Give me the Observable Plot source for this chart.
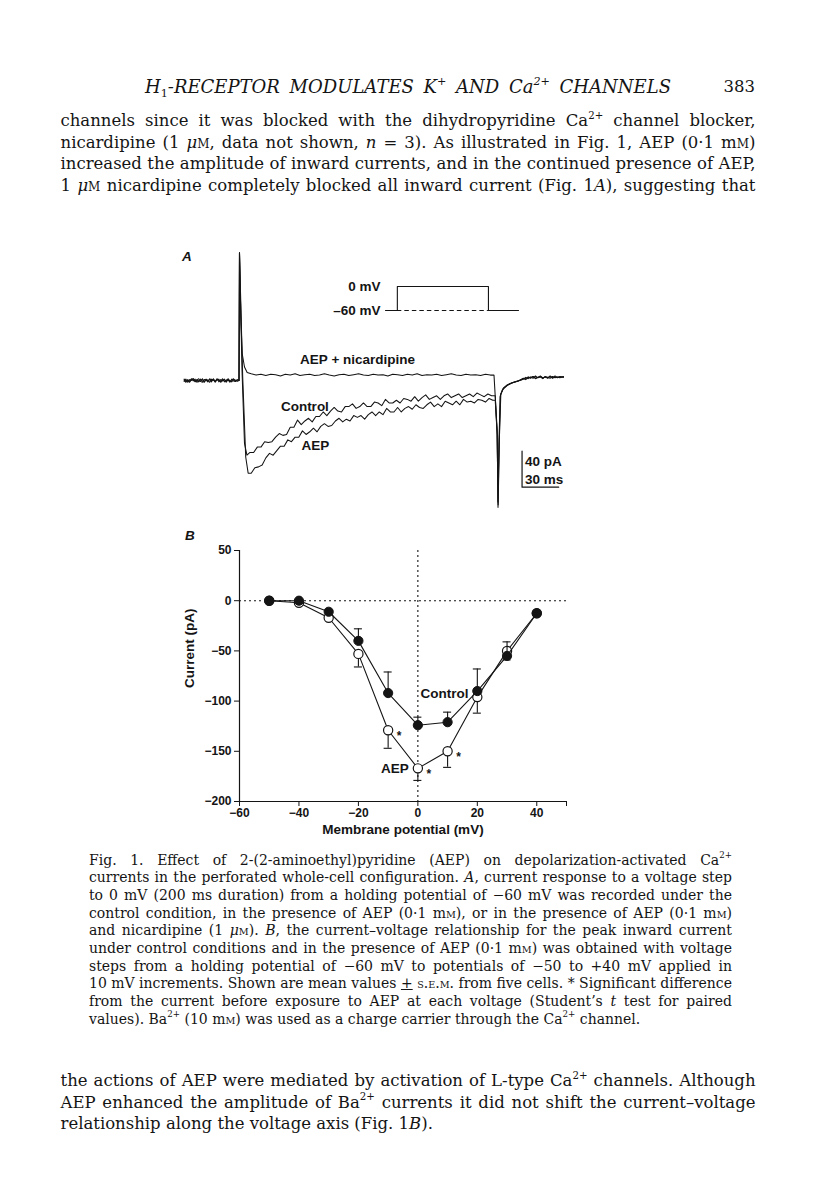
<!DOCTYPE html>
<html><head><meta charset="utf-8">
<script src="https://cdn.jsdelivr.net/npm/d3@7"></script>
<script src="https://cdn.jsdelivr.net/npm/@observablehq/plot@0.6"></script>
<style>
html,body{margin:0;padding:0;background:#fff;}
#page{position:relative;width:816px;height:1200px;overflow:hidden;background:#fff;color:#141414;}
.ln{position:absolute;white-space:nowrap;font-family:"DejaVu Serif",serif;line-height:1;}
.sup{font-size:0.62em;position:relative;top:-0.72em;}
.sub{font-size:0.62em;position:relative;top:0.35em;font-style:normal;}
.sc{font-variant:small-caps;}
.lab{position:absolute;font-family:"Liberation Sans",Arial,sans-serif;font-weight:bold;font-style:italic;font-size:13.5px;line-height:1;}
</style></head><body><div id="page"></div>
<script>
// ---------------- Panel B data: current-voltage relationship ----------------
const voltages    = [-50, -40, -30, -20, -10,    0,   10,  20,  30,    40];
const controlMean = [  0,   0, -11, -40, -92, -124, -121, -90, -55, -12.5];
const controlSem  = [  0,   0,   0,  12,  21,    8,   10,  22,  14,     0];
const aepMean     = [  0,  -2, -17, -53, -129, -167, -150, -96, -50, -12.5];
const aepSem      = [  0,   0,   0,  13,  18,   12,   16,  16,   9,     0];
const significantVoltages = [-10, 0, 10];
const xTicksB = [-60, -40, -20, 0, 20, 40, 50];
const yTicksB = [50, 0, -50, -100, -150, -200];

// ---------------- Panel A data: current traces (ms, pA) ----------------
const controlTime = [-45,-43.5,-42,-40.5,-39,-37.5,-36,-34.5,-33,-31.5,-30,-28.5,-27,-25.5,-24,-22.5,-21,-19.5,-18,-16.5,-15,-13.5,-12,-10.5,-9,-7.5,-6,-4.5,-3,-1.5,0,
  0.4,2.5,4.5,6.5,
  9,12,15,18,21,24,27,30,33,36,39,42,45,48,51,54,57,60,63,66,69,72,75,78,81,84,87,90,93,96,
  99,102,105,108,111,114,117,120,123,126,129,132,135,138,141,144,147,150,153,156,
  159,162,165,168,171,174,177,180,183,186,189,192,195,198,201,204,207,
  210,211.6,212.3,213.2,214.3,216.5,219.8,224,230,
  233,235,237,239,241,243,245,247,249,251,253,255,257,259,261,263,266];
const controlCurrent = [0.5,-2,1,-1,2,-0.5,1.5,-2,0,-1,2,-1.5,1,0,-2,1.5,0.5,-1,2,-1.5,1,-0.5,1.5,-2,1,-1,0.5,2,-1,0.5,0,
  142,10,-70,-83,
  -80,-80,-74,-74,-68,-69,-68,-63,-59,-61,
  -60,-52,-52,-44,-49,-45,-42,-46,-40,-40,
  -35,-39,-34,-30,-34,-35,-29,-29,-26,-31,
  -29,-25,-29,-29,-24,-25,-28,-21,-25,-25,
  -22,-25,-20,-21,-23,-18,-23,-19,-16,-21,
  -19,-17,-21,-17,-15,-19,-17,-15,-19,-17,
  -15,-18,-14,-16,-18,-15,-17,
  -17,-60,-141,-70,-16,-9,-5,-2.5,0,
  1.5,3.5,2,4,2.5,5,3,4,2,4.5,3,5,2.5,4,3,4.5,4];

const aepTime = [-45,-43.5,-42,-40.5,-39,-37.5,-36,-34.5,-33,-31.5,-30,-28.5,-27,-25.5,-24,-22.5,-21,-19.5,-18,-16.5,-15,-13.5,-12,-10.5,-9,-7.5,-6,-4.5,-3,-1.5,0,
  0.4,3,5.5,7.5,
  10,13,16,19,22,25,28,31,34,37,40,43,46,49,52,55,58,61,64,67,70,73,76,79,82,85,88,91,94,97,
  100,103,106,109,112,115,118,121,124,127,130,133,136,139,142,145,148,151,154,157,
  160,163,166,169,172,175,178,181,184,187,190,193,196,199,202,205,208,
  210,211.6,212.4,213.4,214.6,217,220.5,225,231,
  233,235,237,239,241,243,245,247,249,251,253,255,257,259,261,263,266];
const aepCurrent = [-1,1.5,-2,1,0,2,-1.5,0.5,2,-1,-2,1,0.5,-1.5,2,-0.5,1,-2,1.5,0,-1,2,-1.5,0.5,1,-2,1.5,-0.5,-1,1,0,
  142,5,-85,-103,
  -103,-97,-96,-94,-86,-81,-83,-78,-73,-73,
  -66,-68,-63,-63,-56,-60,-57,-53,-57,-51,
  -48,-51,-50,-45,-42,-46,-43,-45,-39,-41,
  -39,-43,-38,-35,-39,-35,-38,-31,-35,-35,
  -30,-35,-31,-29,-32,-27,-30,-31,-27,-24,
  -29,-26,-29,-23,-25,-27,-23,-27,-21,-24,
  -23,-25,-21,-22,-24,-20,-22,
  -22,-60,-138,-65,-15,-8,-4.5,-2,0.5,
  2,1,3.5,2.5,4.5,2,3.5,5,3,4,2.5,4.5,3,5,3.5,4,3.5];

const nicTime = [-45,-43.5,-42,-40.5,-39,-37.5,-36,-34.5,-33,-31.5,-30,-28.5,-27,-25.5,-24,-22.5,-21,-19.5,-18,-16.5,-15,-13.5,-12,-10.5,-9,-7.5,-6,-4.5,-3,-1.5,0,
  0.4,1.5,2.6,4.5,6.7,
  10,14,18,22,26,30,34,38,42,46,50,54,58,62,66,70,74,78,82,86,
  90,94,98,102,106,110,114,118,122,126,130,134,138,142,146,150,154,158,162,166,
  170,174,178,182,186,190,194,198,202,206,
  209,211.6,212.2,213,214,216,219.5,223,229,
  233,235,237,239,241,243,245,247,249,251,253,255,257,259,261,263,266];
const nicCurrent = [1.5,-1,0,-2,1,2,-1,1,-1.5,1.5,-0.5,-2,1.5,0,1,-1.5,2,-1,0.5,1.5,-2,0,1,-1,2,-0.5,-1.5,1,0.5,-1,0,
  142,70,30,15,9,
  7.5,6,7,5.5,7,6.5,5,7,6,7.5,5.5,6.5,7,5.5,6,7.5,6,5,6.5,7,
  5.5,6.5,7.5,6,5.5,7,6,6.5,5,7,6.5,5.5,7,6,7.5,5.5,6.5,6,7,5.5,
  6.5,7.5,6,5.5,7,6,6.5,5.5,7,6,
  6,-55,-135,-75,-18,-10,-6,-3,-0.5,
  2.5,2,4,3,4.5,2.5,3.5,4.5,2.5,4,3.5,2.5,4.5,3,4,3,4.5];

// voltage protocol (schematic)
const protocolTime = [-26, 0, 0, 200, 200, 266];
const protocolMv   = [-60, -60, 0, 0, -60, -60];
const protocolTicks = [0, -60];
// scale bar
const scaleBar = {t: 232, i: -118.6, ms: 30, pA: 40};

// ---------------- Page text ----------------
const headerHtml = 'H<span class="sub">1</span>-RECEPTOR MODULATES K<span class="sup">+</span> AND Ca<span class="sup">2+</span> CHANNELS';
const pageNumber = "383";
const topLines = [
  'channels since it was blocked with the dihydropyridine Ca<span class="sup">2+</span> channel blocker,',
  'nicardipine (1 <i>μ</i><span class="sc">m</span>, data not shown, <i>n</i> = 3). As illustrated in Fig. 1, AEP (0·1 m<span class="sc">m</span>)',
  'increased the amplitude of inward currents, and in the continued presence of AEP,',
  '1 <i>μ</i><span class="sc">m</span> nicardipine completely blocked all inward current (Fig. 1<i>A</i>), suggesting that'
];
const captionLines = [
  'Fig. 1. Effect of 2-(2-aminoethyl)pyridine (AEP) on depolarization-activated Ca<span class="sup">2+</span>',
  'currents in the perforated whole-cell configuration. <i>A</i>, current response to a voltage step',
  'to 0 mV (200 ms duration) from a holding potential of −60 mV was recorded under the',
  'control condition, in the presence of AEP (0·1 m<span class="sc">m</span>), or in the presence of AEP (0·1 m<span class="sc">m</span>)',
  'and nicardipine (1 <i>μ</i><span class="sc">m</span>). <i>B</i>, the current–voltage relationship for the peak inward current',
  'under control conditions and in the presence of AEP (0·1 m<span class="sc">m</span>) was obtained with voltage',
  'steps from a holding potential of −60 mV to potentials of −50 to +40 mV applied in',
  '10 mV increments. Shown are mean values <u>+</u> <span class="sc">s.e.m.</span> from five cells. * Significant difference',
  'from the current before exposure to AEP at each voltage (Student’s <i>t</i> test for paired',
  'values). Ba<span class="sup">2+</span> (10 m<span class="sc">m</span>) was used as a charge carrier through the Ca<span class="sup">2+</span> channel.'
];
const bottomLines = [
  'the actions of AEP were mediated by activation of L-type Ca<span class="sup">2+</span> channels. Although',
  'AEP enhanced the amplitude of Ba<span class="sup">2+</span> currents it did not shift the current–voltage',
  'relationship along the voltage axis (Fig. 1<i>B</i>).'
];

// ---------------- Build ----------------
const page = document.getElementById("page");
const sans = "'Liberation Sans', Arial, Helvetica, sans-serif";
const ink = "#141414";

function place(el, left, top) {
  el.style.position = "absolute";
  el.style.left = left + "px";
  el.style.top = top + "px";
  page.appendChild(el);
}

// Panel A traces
const rows = (name, ts, is) => ts.map((t, k) => ({trace: name, t, i: is[k]}));
const controlRows = rows("Control", controlTime, controlCurrent);
const aepRows = rows("AEP", aepTime, aepCurrent);
const nicRows = rows("AEP + nicardipine", nicTime, nicCurrent);
const traceRows = [...nicRows, ...controlRows, ...aepRows];
const pick = (arr, t) => arr.filter(d => d.t === t);

const plotA = Plot.plot({
  width: 400, height: 280,
  marginLeft: 0, marginRight: 0, marginTop: 0, marginBottom: 0,
  style: {background: "transparent", overflow: "visible", fontFamily: sans, fontSize: "13.5px", fontWeight: "bold", color: ink},
  x: {domain: [-47.95, 279.9], axis: null},
  y: {domain: [-155.6, 155.6], axis: null},
  marks: [
    Plot.line(traceRows, {x: "t", y: "i", z: "trace", stroke: ink, strokeWidth: 1.05, curve: "linear"}),
    Plot.text(pick(nicRows, 98), {x: "t", y: "i", text: "trace", dx: -1, dy: -14}),
    Plot.text(pick(controlRows, 54), {x: "t", y: "i", text: "trace", dx: 0, dy: -14}),
    Plot.text(pick(aepRows, 61), {x: "t", y: "i", text: "trace", dx: 2, dy: 17}),
    Plot.line([
      {t: scaleBar.t, i: scaleBar.i + scaleBar.pA},
      {t: scaleBar.t, i: scaleBar.i},
      {t: scaleBar.t + scaleBar.ms, i: scaleBar.i}
    ], {x: "t", y: "i", stroke: ink, strokeWidth: 1.2}),
    Plot.text([{t: scaleBar.t, i: scaleBar.i + scaleBar.pA * 0.72, s: scaleBar.pA + " pA"},
               {t: scaleBar.t, i: scaleBar.i + scaleBar.pA * 0.22, s: scaleBar.ms + " ms"}],
      {x: "t", y: "i", text: "s", textAnchor: "start", dx: 3})
  ]
});
place(plotA, 180, 240);

// Voltage protocol
const protocolRows = protocolTime.map((t, k) => ({t, v: protocolMv[k]}));
const plotP = Plot.plot({
  width: 210, height: 45,
  marginLeft: 65, marginRight: 12, marginTop: 11, marginBottom: 10,
  style: {background: "transparent", overflow: "visible", fontFamily: sans, fontSize: "13.5px", fontWeight: "bold", color: ink},
  x: {axis: null},
  y: {domain: [-60, 0]},
  marks: [
    Plot.axisY({ticks: protocolTicks, tickSize: 0, tickPadding: 5, label: null,
      tickFormat: d => (d < 0 ? "–" + (-d) : String(d)) + " mV"}),
    Plot.ruleY([-60], {x1: 0, x2: 200, stroke: ink, strokeDasharray: "4.5,3", strokeWidth: 1}),
    Plot.line(protocolRows, {x: "t", y: "v", stroke: ink, strokeWidth: 1.1})
  ]
});
place(plotP, 320, 275);

// Panel B
const rowsC = voltages.map((v, k) => ({v, mean: controlMean[k], sem: controlSem[k]}));
const rowsA = voltages.map((v, k) => ({v, mean: aepMean[k], sem: aepSem[k]}));
const capHalf = 1.35;
const fmtX = d => d === 50 ? "" : (d < 0 ? "−" + (-d) : String(d));
const fmtY = d => (d < 0 ? "−" + (-d) : String(d));
const plotB = Plot.plot({
  width: 420, height: 330,
  marginLeft: 69, marginRight: 24, marginTop: 30, marginBottom: 49,
  style: {background: "transparent", overflow: "visible", fontFamily: sans, fontSize: "12px", fontWeight: "bold", color: ink},
  x: {domain: [-60, 50]},
  y: {domain: [-200, 50]},
  marks: [
    Plot.ruleY([0], {stroke: ink, strokeDasharray: "2,3", strokeWidth: 1.1}),
    Plot.ruleX([0], {stroke: ink, strokeDasharray: "2,3", strokeWidth: 1.1}),
    Plot.ruleX([-60], {stroke: ink, strokeWidth: 1.2}),
    Plot.ruleY([-200], {stroke: ink, strokeWidth: 1.2}),
    Plot.axisY({ticks: yTicksB, tickSize: 5, tickPadding: 3, label: null, tickFormat: fmtY}),
    Plot.axisX({ticks: xTicksB, tickSize: 5, tickPadding: 2, label: null, tickFormat: fmtX}),
    Plot.text(["Current (pA)"], {text: d => d, frameAnchor: "left", rotate: -90, dx: -50, dy: 12, fontSize: 13.5}),
    Plot.text(["Membrane potential (mV)"], {text: d => d, frameAnchor: "bottom", dy: 32, fontSize: 13.5}),
    // AEP
    Plot.line(rowsA, {x: "v", y: "mean", stroke: ink, strokeWidth: 1.1}),
    Plot.ruleX(rowsA.filter(d => d.sem > 0), {x: "v", y1: "mean", y2: d => d.mean - d.sem, stroke: ink, strokeWidth: 1.1}),
    Plot.ruleY(rowsA.filter(d => d.sem > 0), {y: d => d.mean - d.sem, x1: d => d.v - capHalf, x2: d => d.v + capHalf, stroke: ink, strokeWidth: 1.1}),
    Plot.dot(rowsA, {x: "v", y: "mean", r: 4.6, fill: "white", stroke: ink, strokeWidth: 1.2}),
    // Control
    Plot.line(rowsC, {x: "v", y: "mean", stroke: ink, strokeWidth: 1.1}),
    Plot.ruleX(rowsC.filter(d => d.sem > 0), {x: "v", y1: "mean", y2: d => d.mean + d.sem, stroke: ink, strokeWidth: 1.1}),
    Plot.ruleY(rowsC.filter(d => d.sem > 0), {y: d => d.mean + d.sem, x1: d => d.v - capHalf, x2: d => d.v + capHalf, stroke: ink, strokeWidth: 1.1}),
    Plot.dot(rowsC, {x: "v", y: "mean", r: 4.6, fill: ink, stroke: ink, strokeWidth: 1}),
    // labels
    Plot.text(rowsC.filter(d => d.v === 10), {x: "v", y: "mean", text: () => "Control", dx: -3, dy: -29, fontSize: 13.5}),
    Plot.text(rowsA.filter(d => d.v === 0), {x: "v", y: "mean", text: () => "AEP", textAnchor: "end", dx: -9, dy: 0, fontSize: 13.5}),
    Plot.text(rowsA.filter(d => significantVoltages.includes(d.v)), {x: "v", y: "mean", text: () => "*", dx: 11, dy: 6, fontSize: 12})
  ]
});
place(plotB, 170, 520);

// Panel letters
function letter(txt, left, baseline) {
  const d = document.createElement("div");
  d.className = "lab";
  d.textContent = txt;
  d.style.left = left + "px";
  d.style.top = (baseline - 0.846 * 13.5) + "px";
  page.appendChild(d);
}
letter("A", 182, 261);
letter("B", 185, 540);

// Text blocks
const blocks = [];
function block(lines, opt) {
  const els = lines.map((html, k) => {
    const d = document.createElement("div");
    d.className = "ln";
    d.innerHTML = html;
    d.style.fontSize = opt.fs + "px";
    if (opt.italic) d.style.fontStyle = "italic";
    d.style.left = opt.x + "px";
    d.style.top = (opt.y0 + k * opt.dy - 0.846 * opt.fs) + "px";
    page.appendChild(d);
    return d;
  });
  blocks.push({els, opt});
}
block([headerHtml], {x: 145, w: 526, y0: 93, dy: 0, fs: 18, italic: true, justifyLast: true});
block(topLines, {x: 60.5, w: 695, y0: 127, dy: 21.7, fs: 16.5, justifyLast: true});
block(captionLines, {x: 89, w: 643, y0: 865, dy: 17.65, fs: 14.5, justifyLast: false});
block(bottomLines, {x: 60.5, w: 695, y0: 1087, dy: 21.5, fs: 16.5, justifyLast: false});

const pn = document.createElement("div");
pn.className = "ln";
pn.textContent = pageNumber;
pn.style.fontSize = "16.5px";
pn.style.right = (816 - 755) + "px";
pn.style.top = (93 - 0.846 * 16.5) + "px";
page.appendChild(pn);

function fitAll() {
  for (const {els, opt} of blocks) {
    els.forEach(e => { e.style.wordSpacing = "0px"; e.style.transform = ""; });
    const widths = els.map(e => e.getBoundingClientRect().width);
    let s = 1;
    els.forEach((e, k) => {
      const just = k < els.length - 1 || opt.justifyLast;
      if (just) s = Math.min(s, opt.w / widths[k]);
    });
    els.forEach((e, k) => {
      const just = k < els.length - 1 || opt.justifyLast;
      e.style.transformOrigin = "0 0";
      if (s < 1) e.style.transform = `scaleX(${s})`;
      if (just) {
        const spaces = (e.textContent.match(/ /g) || []).length;
        if (spaces) e.style.wordSpacing = ((opt.w / s - widths[k]) / spaces) + "px";
      }
    });
  }
}
fitAll();
if (document.fonts && document.fonts.ready) document.fonts.ready.then(fitAll);
</script>
</body></html>
